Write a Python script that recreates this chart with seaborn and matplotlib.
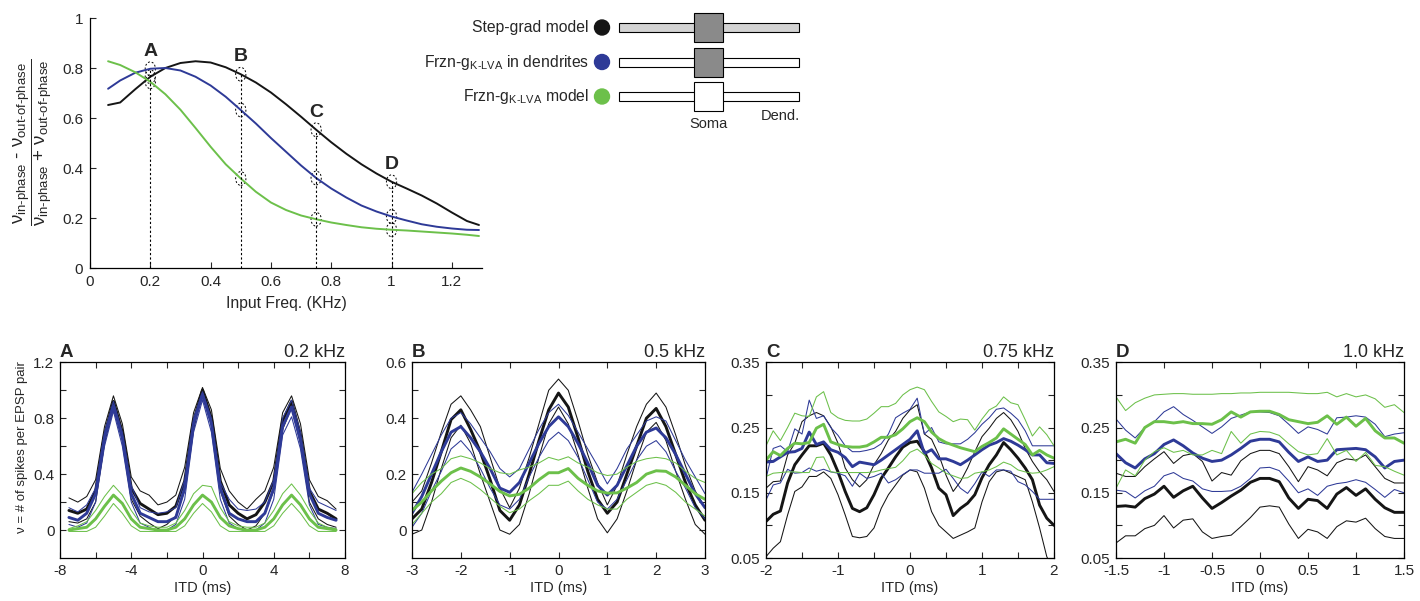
import matplotlib
matplotlib.use('Agg')
import matplotlib.pyplot as plt
from matplotlib.patches import Ellipse, Rectangle, Circle
import numpy as np
import seaborn as sns

sns.set_style('ticks')
plt.rcParams['font.family'] = ['Liberation Sans', 'DejaVu Sans']
plt.rcParams['mathtext.fontset'] = 'custom'
plt.rcParams['mathtext.rm'] = 'Liberation Sans'
plt.rcParams['mathtext.it'] = 'Liberation Sans:italic'
plt.rcParams['mathtext.bf'] = 'Liberation Sans:bold'
plt.rcParams['axes.linewidth'] = 0.9
plt.rcParams['axes.edgecolor'] = 'black'

# colores de los tres modelos
BLACK = '#151515'
BLUE = '#2e3a97'
GREEN = '#6cc04a'
model_colors = [BLACK, BLUE, GREEN]
model_names = ['Step-grad model', 'Frzn-g$_{\\text{K-LVA}}$ in dendrites', 'Frzn-g$_{\\text{K-LVA}}$ model']

# --- panel superior: indice de fase vs frecuencia ---
freq = [0.06, 0.1, 0.15, 0.2, 0.25, 0.3, 0.35, 0.4, 0.45, 0.5, 0.55, 0.6, 0.65,
        0.7, 0.75, 0.8, 0.85, 0.9, 0.95, 1.0, 1.05, 1.1, 1.15, 1.2, 1.25, 1.29]
ratio_step = [0.652, 0.662, 0.715, 0.765, 0.800, 0.820, 0.827, 0.822, 0.803, 0.775, 0.742, 0.702, 0.655,
              0.605, 0.553, 0.503, 0.457, 0.415, 0.378, 0.345, 0.318, 0.290, 0.258, 0.222, 0.188, 0.172]
ratio_dend = [0.717, 0.750, 0.781, 0.797, 0.800, 0.790, 0.765, 0.730, 0.685, 0.632, 0.578, 0.520, 0.465,
              0.410, 0.360, 0.318, 0.282, 0.250, 0.226, 0.206, 0.190, 0.175, 0.165, 0.158, 0.153, 0.152]
ratio_frzn = [0.827, 0.812, 0.783, 0.745, 0.695, 0.633, 0.560, 0.485, 0.415, 0.358, 0.305, 0.262, 0.232,
              0.210, 0.195, 0.182, 0.172, 0.163, 0.157, 0.153, 0.150, 0.146, 0.142, 0.138, 0.133, 0.128]
mark_freq = [0.2, 0.5, 0.75, 1.0]
mark_labels = ['A', 'B', 'C', 'D']

# --- paneles inferiores: nu vs ITD (media y banda sup/inf) ---
itd_a = np.linspace(-7.5, 7.5, 31)
a_black_hi = [0.23, 0.20, 0.24, 0.36, 0.74, 0.96, 0.76, 0.38, 0.28, 0.25, 0.18, 0.20, 0.25, 0.45, 0.84, 1.02,
              0.86, 0.44, 0.28, 0.20, 0.15, 0.22, 0.28, 0.45, 0.84, 0.96, 0.76, 0.36, 0.24, 0.21, 0.15]
a_black = [0.14, 0.12, 0.15, 0.28, 0.68, 0.92, 0.70, 0.30, 0.19, 0.15, 0.11, 0.12, 0.17, 0.35, 0.78, 1.00,
           0.80, 0.35, 0.18, 0.12, 0.08, 0.11, 0.20, 0.35, 0.78, 0.92, 0.68, 0.28, 0.15, 0.12, 0.08]
a_black_lo = [0.06, 0.05, 0.08, 0.20, 0.62, 0.88, 0.64, 0.22, 0.10, 0.05, 0.01, 0.04, 0.10, 0.28, 0.72, 0.98,
              0.76, 0.28, 0.10, 0.04, 0.00, 0.03, 0.12, 0.28, 0.72, 0.88, 0.62, 0.20, 0.08, 0.04, 0.02]
a_blue_hi = [0.16, 0.13, 0.18, 0.30, 0.70, 0.92, 0.70, 0.32, 0.16, 0.13, 0.12, 0.13, 0.16, 0.36, 0.80, 0.99,
             0.80, 0.34, 0.22, 0.15, 0.14, 0.15, 0.20, 0.36, 0.80, 0.93, 0.70, 0.30, 0.20, 0.17, 0.14]
a_blue = [0.09, 0.07, 0.12, 0.26, 0.66, 0.89, 0.66, 0.26, 0.12, 0.09, 0.06, 0.06, 0.09, 0.30, 0.76, 0.97,
          0.76, 0.30, 0.12, 0.08, 0.06, 0.06, 0.12, 0.30, 0.74, 0.88, 0.64, 0.26, 0.12, 0.09, 0.07]
a_blue_lo = [0.04, 0.02, 0.05, 0.20, 0.60, 0.85, 0.60, 0.20, 0.05, 0.02, -0.01, 0.00, 0.04, 0.22, 0.70, 0.93,
             0.70, 0.22, 0.05, 0.01, -0.01, 0.00, 0.05, 0.22, 0.68, 0.81, 0.58, 0.18, 0.04, 0.02, 0.01]
a_green_hi = [0.01, 0.03, 0.06, 0.14, 0.24, 0.32, 0.25, 0.14, 0.05, 0.03, 0.02, 0.02, 0.05, 0.14, 0.26, 0.32,
              0.31, 0.16, 0.06, 0.03, 0.02, 0.02, 0.05, 0.14, 0.26, 0.33, 0.25, 0.14, 0.05, 0.02, 0.01]
a_green = [0.00, 0.01, 0.02, 0.08, 0.17, 0.25, 0.19, 0.08, 0.02, 0.01, 0.00, 0.00, 0.02, 0.08, 0.18, 0.25,
           0.20, 0.09, 0.03, 0.01, 0.00, 0.00, 0.02, 0.08, 0.18, 0.25, 0.18, 0.08, 0.02, 0.01, 0.00]
a_green_lo = [-0.01, -0.01, -0.01, 0.02, 0.10, 0.19, 0.12, 0.03, -0.01, -0.01, -0.01, -0.01, -0.01, 0.03, 0.12, 0.19,
              0.13, 0.03, -0.01, -0.01, -0.01, -0.01, -0.01, 0.03, 0.12, 0.19, 0.12, 0.03, -0.01, -0.01, -0.01]

itd_b = np.linspace(-3, 3, 31)
b_black_hi = [0.100, 0.140, 0.240, 0.350, 0.450, 0.480, 0.430, 0.370, 0.260, 0.150, 0.080, 0.150, 0.260, 0.380, 0.500, 0.540,
              0.500, 0.390, 0.270, 0.170, 0.090, 0.160, 0.270, 0.370, 0.450, 0.490, 0.440, 0.340, 0.230, 0.140, 0.080]
b_black = [0.040, 0.075, 0.170, 0.280, 0.395, 0.430, 0.360, 0.280, 0.180, 0.070, 0.035, 0.090, 0.200, 0.320, 0.430, 0.490,
           0.440, 0.330, 0.210, 0.110, 0.060, 0.100, 0.200, 0.300, 0.400, 0.435, 0.370, 0.270, 0.170, 0.090, 0.035]
b_black_lo = [-0.015, 0.000, 0.100, 0.220, 0.330, 0.375, 0.310, 0.200, 0.100, 0.000, -0.015, 0.020, 0.130, 0.260, 0.380, 0.440,
              0.380, 0.270, 0.150, 0.040, -0.010, 0.040, 0.140, 0.250, 0.350, 0.385, 0.320, 0.210, 0.110, 0.020, -0.015]
b_blue_hi = [0.135, 0.200, 0.270, 0.340, 0.400, 0.420, 0.380, 0.330, 0.280, 0.220, 0.190, 0.220, 0.290, 0.360, 0.420, 0.450,
             0.410, 0.350, 0.290, 0.230, 0.165, 0.220, 0.290, 0.340, 0.390, 0.405, 0.390, 0.320, 0.250, 0.190, 0.130]
b_blue = [0.060, 0.120, 0.200, 0.280, 0.350, 0.370, 0.330, 0.280, 0.220, 0.150, 0.135, 0.170, 0.240, 0.310, 0.370, 0.405,
          0.370, 0.310, 0.240, 0.160, 0.125, 0.160, 0.230, 0.300, 0.350, 0.365, 0.330, 0.270, 0.200, 0.130, 0.080]
b_blue_lo = [0.010, 0.060, 0.140, 0.210, 0.290, 0.320, 0.280, 0.220, 0.150, 0.090, 0.075, 0.110, 0.190, 0.260, 0.320, 0.350,
             0.320, 0.260, 0.180, 0.100, 0.075, 0.110, 0.180, 0.250, 0.300, 0.320, 0.280, 0.210, 0.150, 0.080, 0.040]
b_green_hi = [0.130, 0.170, 0.200, 0.220, 0.255, 0.265, 0.255, 0.240, 0.220, 0.205, 0.200, 0.215, 0.225, 0.240, 0.260, 0.250,
              0.262, 0.240, 0.225, 0.205, 0.195, 0.200, 0.225, 0.245, 0.255, 0.260, 0.255, 0.240, 0.210, 0.185, 0.170]
b_green = [0.070, 0.100, 0.140, 0.175, 0.205, 0.222, 0.210, 0.190, 0.165, 0.138, 0.122, 0.128, 0.150, 0.180, 0.205, 0.205,
           0.220, 0.185, 0.160, 0.140, 0.132, 0.133, 0.150, 0.170, 0.200, 0.212, 0.210, 0.190, 0.160, 0.130, 0.110]
b_green_lo = [0.020, 0.060, 0.100, 0.130, 0.170, 0.185, 0.170, 0.145, 0.115, 0.085, 0.062, 0.075, 0.105, 0.130, 0.160, 0.160,
              0.175, 0.140, 0.110, 0.090, 0.075, 0.075, 0.110, 0.135, 0.160, 0.170, 0.160, 0.135, 0.100, 0.075, 0.050]

itd_c = np.linspace(-2, 2, 41)
c_black_hi = [0.157, 0.167, 0.168, 0.208, 0.226, 0.259, 0.268, 0.273, 0.268, 0.251,
              0.226, 0.188, 0.170, 0.159, 0.170, 0.193, 0.210, 0.231, 0.244, 0.264,
              0.277, 0.285, 0.240, 0.232, 0.208, 0.177, 0.152, 0.167, 0.188, 0.213,
              0.236, 0.249, 0.264, 0.273, 0.262, 0.244, 0.218, 0.198, 0.182, 0.170, 0.152]
c_black = [0.106, 0.117, 0.122, 0.165, 0.193, 0.208, 0.222, 0.222, 0.226, 0.208,
           0.182, 0.152, 0.126, 0.121, 0.127, 0.147, 0.172, 0.188, 0.205, 0.220,
           0.227, 0.229, 0.213, 0.188, 0.157, 0.147, 0.115, 0.126, 0.134, 0.147,
           0.173, 0.193, 0.208, 0.227, 0.216, 0.203, 0.188, 0.170, 0.131, 0.111, 0.100]
c_black_lo = [0.052, 0.065, 0.075, 0.116, 0.152, 0.159, 0.175, 0.175, 0.182, 0.172,
              0.147, 0.116, 0.083, 0.081, 0.083, 0.096, 0.126, 0.147, 0.162, 0.177,
              0.185, 0.182, 0.157, 0.121, 0.100, 0.090, 0.080, 0.085, 0.090, 0.096,
              0.136, 0.167, 0.182, 0.185, 0.180, 0.175, 0.170, 0.136, 0.096, 0.052, 0.030]
c_blue_hi = [0.172, 0.218, 0.222, 0.213, 0.248, 0.240, 0.292, 0.264, 0.268, 0.250,
             0.238, 0.222, 0.213, 0.213, 0.215, 0.218, 0.225, 0.240, 0.265, 0.272,
             0.278, 0.295, 0.240, 0.250, 0.228, 0.225, 0.225, 0.225, 0.232, 0.242,
             0.255, 0.265, 0.278, 0.280, 0.272, 0.262, 0.245, 0.222, 0.222, 0.222, 0.222]
c_blue = [0.197, 0.198, 0.205, 0.212, 0.213, 0.218, 0.243, 0.224, 0.228, 0.216,
          0.212, 0.204, 0.190, 0.197, 0.195, 0.193, 0.200, 0.208, 0.216, 0.224,
          0.232, 0.245, 0.210, 0.216, 0.202, 0.202, 0.198, 0.193, 0.200, 0.208,
          0.216, 0.223, 0.227, 0.233, 0.229, 0.223, 0.216, 0.208, 0.208, 0.196, 0.195]
c_blue_lo = [0.139, 0.162, 0.165, 0.186, 0.180, 0.181, 0.188, 0.183, 0.186, 0.182,
             0.180, 0.176, 0.160, 0.180, 0.172, 0.175, 0.180, 0.165, 0.170, 0.178,
             0.185, 0.185, 0.180, 0.180, 0.180, 0.186, 0.172, 0.157, 0.149, 0.164,
             0.182, 0.175, 0.185, 0.185, 0.183, 0.167, 0.162, 0.152, 0.140, 0.140, 0.140]
c_green_hi = [0.222, 0.245, 0.230, 0.250, 0.272, 0.268, 0.267, 0.297, 0.305, 0.273,
              0.265, 0.261, 0.260, 0.260, 0.263, 0.272, 0.282, 0.282, 0.287, 0.300,
              0.308, 0.312, 0.308, 0.290, 0.274, 0.267, 0.259, 0.263, 0.262, 0.246,
              0.263, 0.277, 0.283, 0.297, 0.288, 0.285, 0.262, 0.237, 0.251, 0.239, 0.222]
c_green = [0.200, 0.213, 0.207, 0.218, 0.226, 0.225, 0.227, 0.249, 0.255, 0.228,
           0.224, 0.221, 0.220, 0.220, 0.222, 0.228, 0.235, 0.235, 0.239, 0.248,
           0.259, 0.265, 0.259, 0.243, 0.233, 0.227, 0.223, 0.219, 0.216, 0.213,
           0.221, 0.227, 0.234, 0.248, 0.240, 0.232, 0.224, 0.208, 0.215, 0.208, 0.203]
c_green_lo = [0.175, 0.180, 0.181, 0.182, 0.182, 0.181, 0.181, 0.204, 0.205, 0.182,
              0.181, 0.181, 0.181, 0.181, 0.181, 0.182, 0.185, 0.187, 0.189, 0.199,
              0.212, 0.217, 0.208, 0.195, 0.188, 0.180, 0.176, 0.172, 0.173, 0.180,
              0.182, 0.185, 0.190, 0.197, 0.193, 0.185, 0.182, 0.180, 0.181, 0.185, 0.190]

itd_d = np.linspace(-1.5, 1.5, 31)
d_black_hi = [0.180, 0.175, 0.175, 0.190, 0.202, 0.213, 0.195, 0.207, 0.210, 0.198,
              0.168, 0.181, 0.177, 0.199, 0.210, 0.215, 0.215, 0.210, 0.190, 0.167,
              0.190, 0.185, 0.176, 0.196, 0.202, 0.200, 0.208, 0.190, 0.172, 0.165, 0.165]
d_black = [0.129, 0.130, 0.128, 0.141, 0.148, 0.160, 0.143, 0.153, 0.160, 0.142,
           0.126, 0.135, 0.145, 0.154, 0.166, 0.172, 0.172, 0.167, 0.142, 0.126,
           0.140, 0.138, 0.126, 0.148, 0.158, 0.146, 0.156, 0.140, 0.127, 0.120, 0.120]
d_black_lo = [0.073, 0.084, 0.084, 0.095, 0.100, 0.115, 0.096, 0.108, 0.110, 0.090,
              0.080, 0.083, 0.085, 0.098, 0.112, 0.128, 0.130, 0.128, 0.102, 0.080,
              0.094, 0.090, 0.080, 0.098, 0.107, 0.105, 0.111, 0.095, 0.083, 0.080, 0.080]
d_blue_hi = [0.263, 0.246, 0.234, 0.250, 0.259, 0.274, 0.282, 0.270, 0.261, 0.251,
             0.241, 0.251, 0.264, 0.269, 0.274, 0.274, 0.273, 0.268, 0.255, 0.241,
             0.251, 0.247, 0.240, 0.265, 0.266, 0.268, 0.266, 0.255, 0.236, 0.240, 0.242]
d_blue = [0.210, 0.196, 0.188, 0.202, 0.210, 0.224, 0.231, 0.222, 0.211, 0.203,
          0.198, 0.200, 0.208, 0.218, 0.229, 0.232, 0.232, 0.228, 0.212, 0.198,
          0.205, 0.198, 0.200, 0.216, 0.217, 0.218, 0.216, 0.205, 0.188, 0.198, 0.200]
d_blue_lo = [0.154, 0.152, 0.142, 0.153, 0.160, 0.176, 0.181, 0.172, 0.168, 0.156,
             0.152, 0.152, 0.153, 0.160, 0.172, 0.188, 0.189, 0.184, 0.168, 0.150,
             0.156, 0.146, 0.160, 0.164, 0.166, 0.170, 0.166, 0.155, 0.143, 0.155, 0.150]
d_green_hi = [0.297, 0.276, 0.288, 0.295, 0.300, 0.301, 0.302, 0.302, 0.301, 0.301,
              0.301, 0.302, 0.302, 0.303, 0.303, 0.304, 0.304, 0.304, 0.304, 0.303,
              0.302, 0.302, 0.304, 0.297, 0.302, 0.297, 0.300, 0.294, 0.281, 0.285, 0.273]
d_green = [0.228, 0.232, 0.226, 0.250, 0.259, 0.259, 0.257, 0.259, 0.256, 0.256,
           0.255, 0.262, 0.274, 0.266, 0.274, 0.275, 0.275, 0.270, 0.262, 0.259,
           0.256, 0.258, 0.268, 0.255, 0.266, 0.252, 0.264, 0.245, 0.234, 0.234, 0.226]
d_green_lo = [0.157, 0.185, 0.176, 0.200, 0.213, 0.219, 0.212, 0.215, 0.208, 0.208,
              0.215, 0.210, 0.244, 0.226, 0.240, 0.244, 0.243, 0.238, 0.225, 0.213,
              0.208, 0.210, 0.233, 0.208, 0.215, 0.198, 0.212, 0.192, 0.190, 0.183, 0.177]

W, H = 1420, 601


def px_box(l, t, r, b):
    # caja en pixeles -> fraccion de figura
    return [l / W, 1 - b / H, (r - l) / W, (b - t) / H]


fig = plt.figure(figsize=(W / 100, H / 100), dpi=100)

# panel superior
ax0 = fig.add_axes(px_box(90, 18, 482, 268))
ax0.patch.set_visible(False)
ratios = [ratio_step, ratio_dend, ratio_frzn]
for vals, col in zip(ratios, model_colors):
    sns.lineplot(x=freq, y=vals, color=col, lw=1.4, ax=ax0, legend=False)
for f, lab in zip(mark_freq, mark_labels):
    i = freq.index(f)
    ys = [r[i] for r in ratios]
    ax0.plot([f, f], [0, max(ys)], color='black', lw=0.8, dashes=(2, 2))
    for y in ys:
        ax0.add_patch(Ellipse((f, y), 0.034, 0.055, fill=False, ls=(0, (2, 2)), lw=0.7, ec='black'))
    ax0.text(f, max(ys) + 0.07, lab, ha='center', va='center', fontsize=14, fontweight='bold')
ax0.set_xlim(0, 1.3)
ax0.set_ylim(0, 1)
ax0.set_xticks([0, 0.2, 0.4, 0.6, 0.8, 1.0, 1.2])
ax0.set_xticklabels(['0', '0.2', '0.4', '0.6', '0.8', '1', '1.2'])
ax0.set_yticks([0, 0.2, 0.4, 0.6, 0.8, 1.0])
ax0.set_yticklabels(['0', '0.2', '0.4', '0.6', '0.8', '1'])
ax0.tick_params(direction='in', length=4, width=0.8, labelsize=11, pad=5)
sns.despine(ax=ax0)
ax0.set_xlabel('Input Freq. (KHz)', fontsize=11.3)
ax0.xaxis.set_label_coords(0.5, -0.11)
fig.text(33 / W, 1 - 142 / H,
         r'$\dfrac{\mathrm{\nu}_{\text{in-phase}}\text{ - }\mathrm{\nu}_{\text{out-of-phase}}}'
         r'{\mathrm{\nu}_{\text{in-phase}}\text{ + }\mathrm{\nu}_{\text{out-of-phase}}}$',
         rotation=90, ha='center', va='center', fontsize=13.5)

# esquema de los modelos (leyenda), encima del panel superior
sk = fig.add_axes([0, 0, 1, 1], zorder=5)
sk.set_xlim(0, W)
sk.set_ylim(H, 0)
sk.axis('off')
bar_fill = ['#d3d3d3', 'white', 'white']
soma_fill = ['#8a8a8a', '#8a8a8a', 'white']
for k, row_y in enumerate([27.5, 62, 96.5]):
    sk.text(589, row_y, model_names[k], ha='right', va='center', fontsize=11.3)
    sk.add_patch(Circle((602, row_y), 7.5, color=model_colors[k]))
    sk.add_patch(Rectangle((619, row_y - 4.5), 180, 9, facecolor=bar_fill[k], edgecolor='black', lw=0.8))
    sk.add_patch(Rectangle((694, row_y - 14.5), 29, 29, facecolor=soma_fill[k], edgecolor='black', lw=0.8))
sk.text(708, 124, 'Soma', ha='center', va='center', fontsize=10.5)
sk.text(780, 116, 'Dend.', ha='center', va='center', fontsize=10.5)

# paneles inferiores
panels = [
    ('A', '0.2 kHz', (60, 345), itd_a,
     [(a_black_lo, a_black, a_black_hi), (a_blue_lo, a_blue, a_blue_hi), (a_green_lo, a_green, a_green_hi)],
     (-8, 8), [-8, -6, -4, -2, 0, 2, 4, 6, 8], ['-8', '', '-4', '', '0', '', '4', '', '8'],
     (-0.2, 1.2), [0, 0.2, 0.4, 0.6, 0.8, 1.0, 1.2], ['0', '', '0.4', '', '0.8', '', '1.2']),
    ('B', '0.5 kHz', (412, 705), itd_b,
     [(b_black_lo, b_black, b_black_hi), (b_blue_lo, b_blue, b_blue_hi), (b_green_lo, b_green, b_green_hi)],
     (-3, 3), [-3, -2, -1, 0, 1, 2, 3], ['-3', '-2', '-1', '0', '1', '2', '3'],
     (-0.1, 0.6), [0, 0.1, 0.2, 0.3, 0.4, 0.5, 0.6], ['0', '', '0.2', '', '0.4', '', '0.6']),
    ('C', '0.75 kHz', (766, 1054), itd_c,
     [(c_black_lo, c_black, c_black_hi), (c_blue_lo, c_blue, c_blue_hi), (c_green_lo, c_green, c_green_hi)],
     (-2, 2), [-2, -1.5, -1, -0.5, 0, 0.5, 1, 1.5, 2], ['-2', '', '-1', '', '0', '', '1', '', '2'],
     (0.05, 0.35), [0.05, 0.1, 0.15, 0.2, 0.25, 0.3, 0.35], ['0.05', '', '0.15', '', '0.25', '', '0.35']),
    ('D', '1.0 kHz', (1116, 1404), itd_d,
     [(d_black_lo, d_black, d_black_hi), (d_blue_lo, d_blue, d_blue_hi), (d_green_lo, d_green, d_green_hi)],
     (-1.5, 1.5), [-1.5, -1, -0.5, 0, 0.5, 1, 1.5], ['-1.5', '-1', '-0.5', '0', '0.5', '1', '1.5'],
     (0.05, 0.35), [0.05, 0.1, 0.15, 0.2, 0.25, 0.3, 0.35], ['0.05', '', '0.15', '', '0.25', '', '0.35']),
]

for letter, title, (left, right), itd, series, xlim, xt, xtl, ylim, yt, ytl in panels:
    ax = fig.add_axes(px_box(left, 362.3, right, 558))
    for (lo, mean, hi), col in zip(series, model_colors):
        sns.lineplot(x=itd, y=lo, color=col, lw=0.75, ax=ax, legend=False)
        sns.lineplot(x=itd, y=hi, color=col, lw=0.75, ax=ax, legend=False)
        sns.lineplot(x=itd, y=mean, color=col, lw=2.1, ax=ax, legend=False)
    ax.set_xlim(*xlim)
    ax.set_ylim(*ylim)
    ax.set_xticks(xt)
    ax.set_xticklabels(xtl)
    ax.set_yticks(yt)
    ax.set_yticklabels(ytl)
    ax.tick_params(direction='in', length=4, width=0.8, labelsize=11, pad=4,
                   top=True, right=True)
    ax.set_xlabel('ITD (ms)', fontsize=10.5)
    ax.xaxis.set_label_coords(0.5, -0.115)
    ax.set_ylabel('')
    ax.set_title(letter, loc='left', fontsize=13.5, fontweight='bold', pad=9)
    ax.set_title(title, loc='right', fontsize=13, pad=4)

fig.text(22 / W, 1 - 447 / H, 'ν = # of spikes per EPSP pair', rotation=90,
         ha='center', va='center', fontsize=9.5)

fig.savefig('out.png', dpi=100)
